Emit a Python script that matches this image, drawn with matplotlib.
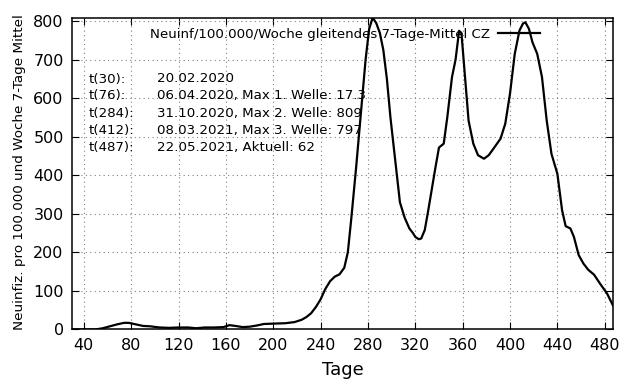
import matplotlib
matplotlib.use('Agg')
import matplotlib.pyplot as plt

# Tage und Neuinfektionen/100.000/Woche (7-Tage-Mittel CZ)
tage = [30, 40, 50, 56, 62, 68, 74, 78, 84, 90, 96, 104, 112, 120, 128, 135,
        142, 150, 158, 163, 168, 174, 180, 186, 192, 200, 210, 218, 224, 228,
        232, 236, 240, 244, 248, 252, 256, 260, 263, 266, 270, 274, 278, 281,
        284, 287, 290, 293, 296, 299, 303, 307, 311, 315, 318, 320, 323, 325,
        328, 331, 334, 337, 340, 344, 347, 351, 354, 357, 359, 362, 365, 369,
        373, 378, 382, 386, 392, 396, 400, 404, 408, 411, 413, 416, 419, 423,
        427, 431, 435, 440, 444, 447, 451, 454, 458, 462, 466, 471, 476, 482, 487]
werte = [0, 0, 0, 3, 8, 13, 17, 17, 13, 9, 8, 5, 4, 5, 5, 3,
         5, 5, 6, 11, 9, 6, 7, 10, 14, 15, 16, 19, 25, 32,
         42, 58, 78, 105, 125, 137, 143, 160, 200, 290, 420, 560, 700, 780,
         809, 795, 770, 725, 650, 550, 440, 330, 290, 262, 250, 240, 234, 236,
         258, 310, 365, 420, 472, 482, 550, 655, 700, 775, 768, 655, 542, 482,
         452, 443, 452, 469, 495, 534, 612, 715, 776, 794, 797, 780, 745, 715,
         655, 542, 456, 404, 309, 268, 262, 240, 193, 171, 155, 142, 119, 93, 62]

info_links = ['t(30):', 't(76):', 't(284):', 't(412):', 't(487):']
info_rechts = ['20.02.2020',
               '06.04.2020, Max 1. Welle: 17.3',
               '31.10.2020, Max 2. Welle: 809',
               '08.03.2021, Max 3. Welle: 797',
               '22.05.2021, Aktuell: 62']

fig = plt.figure(figsize=(6.4, 3.84), dpi=100)
ax = fig.add_axes([72 / 640, 1 - 329.4 / 384, (613 - 72) / 640, (329.4 - 17.7) / 384])

ax.plot(tage, werte, color='black', linewidth=1.6,
        label='Neuinf/100.000/Woche gleitendes 7-Tage-Mittel CZ')

ax.set_xlim(30, 487)
ax.set_ylim(0, 809)
ax.set_xticks(range(40, 481, 40))
ax.set_yticks(range(0, 801, 100))
ax.tick_params(direction='in', length=5, top=True, right=True, labelsize=11.5, pad=6)
ax.grid(True, linestyle=(0, (1, 3)), color='grey', linewidth=0.8)
for s in ax.spines.values():
    s.set_linewidth(1.1)

ax.set_xlabel('Tage', fontsize=13, labelpad=6)
ax.set_ylabel('Neuinfiz. pro 100.000 und Woche 7-Tage Mittel', fontsize=9.7)
ax.yaxis.set_label_coords(-0.085, 0.505)

leg = ax.legend(loc='upper right', bbox_to_anchor=(540 / 640, 1 - 28 / 384),
                bbox_transform=fig.transFigure, frameon=False, markerfirst=False,
                fontsize=9.6, handlelength=3.15, handletextpad=0.6, borderpad=0,
                borderaxespad=0)

for i, (l, r) in enumerate(zip(info_links, info_rechts)):
    y = 1 - (79 + 17 * i) / 384
    fig.text(89 / 640, y, l, fontsize=9.6, va='center')
    fig.text(157 / 640, y, r, fontsize=9.6, va='center')

fig.savefig('out.png', dpi=100)
